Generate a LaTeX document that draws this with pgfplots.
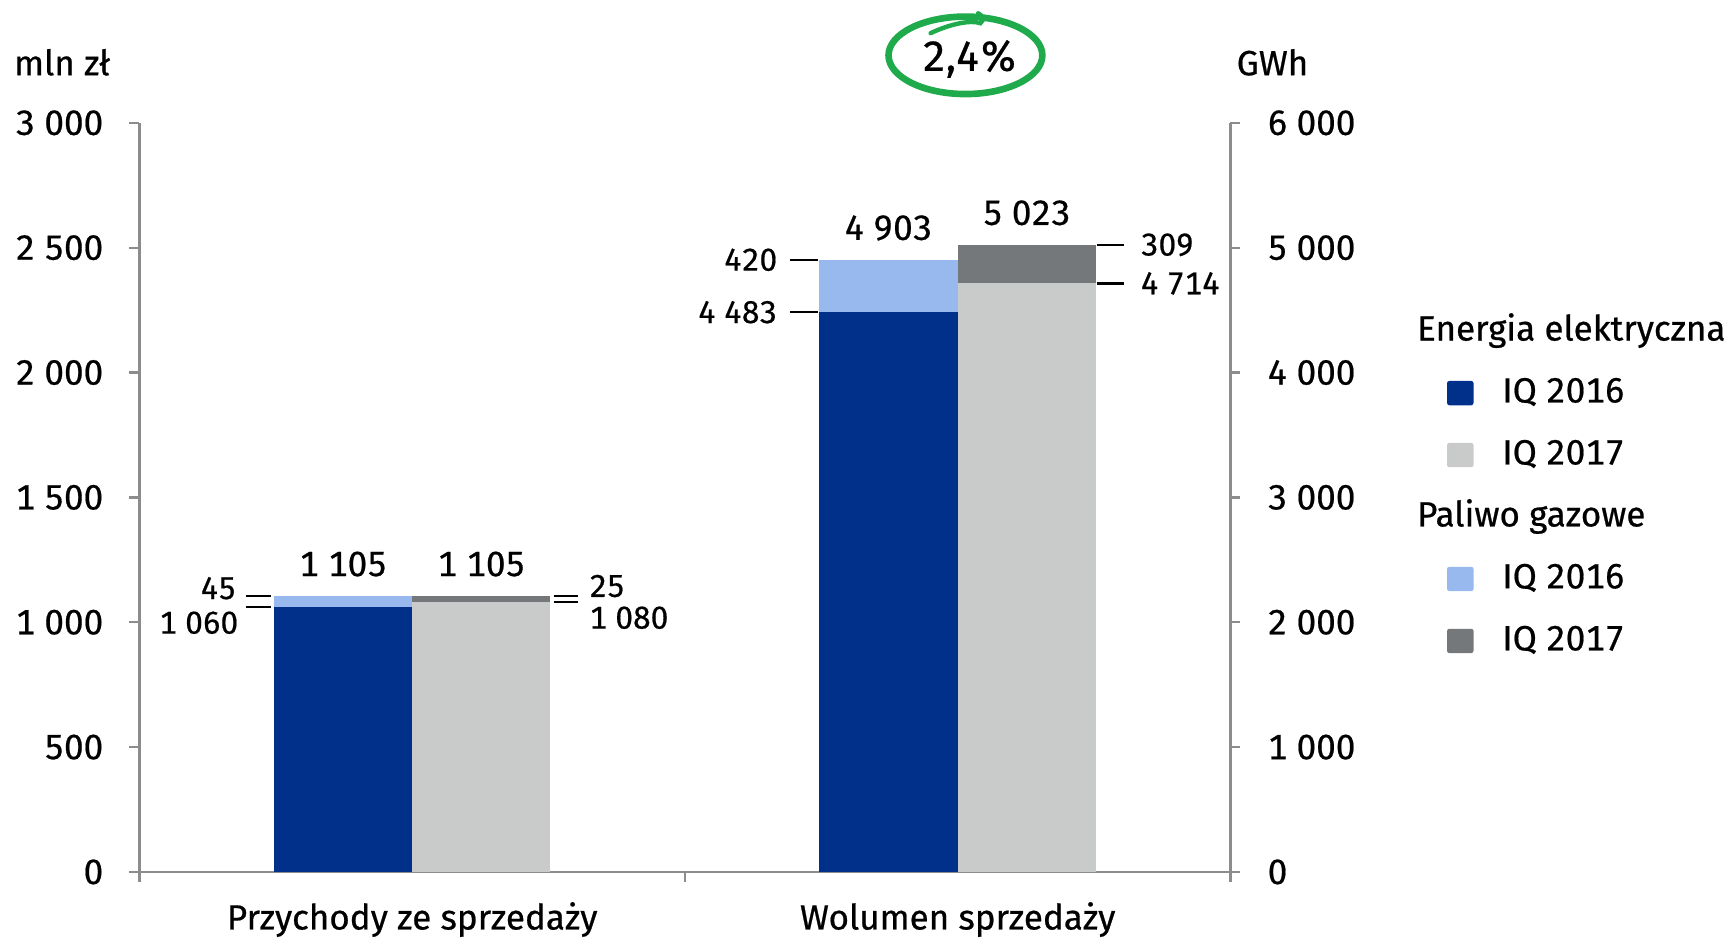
\documentclass[border=0pt]{standalone}
\usepackage{fontspec}
\setmainfont{Fira Sans}[FakeBold=0.6, Numbers=Monospaced]
\usepackage{pgfplots}
\pgfplotsset{compat=1.18}

\definecolor{navy}{HTML}{00308A}
\definecolor{lgray}{HTML}{C9CBCA}
\definecolor{lblue}{HTML}{97B9EE}
\definecolor{dgray}{HTML}{75787B}
\definecolor{axgray}{HTML}{8C8C8C}
\definecolor{ring}{HTML}{1FAA4C}

\newcommand\fs{\fontsize{9pt}{10pt}\selectfont}
\newcommand\fss{\fontsize{8.1pt}{9pt}\selectfont}

\tikzset{lead/.style={black, line width=0.02cm}}

\pgfplotsset{
  base/.style={
    at={(1.26cm,0.60cm)}, anchor=south west, scale only axis,
    width=9.86cm, height=6.77cm,
    xmin=-0.5, xmax=1.5, ymin=0,
    ybar stacked, bar width=0.2535,
    axis line style={axgray, line width=0.6pt},
    tick style={axgray, line width=0.6pt},
    tick align=outside, major tick length=0.09cm,
    clip=false,
    /pgf/number format/assume math mode=true,
    tick label style={font=\fs, inner sep=0pt, text=black},
  },
  sq/.style={legend image code/.code={\fill[##1, rounded corners=0.6pt] (0cm,-0.11cm) rectangle (0.24cm,0.11cm);}},
}

\begin{document}
\begin{tikzpicture}
% left axis: revenue, mln zl
\begin{axis}[base, ymax=3000,
  axis y line*=left, axis x line*=bottom,
  ytick={0,500,...,3000},
  yticklabels={0,500,1 000,1 500,2 000,2 500,3 000},
  yticklabel style={anchor=east, xshift=-0.23cm},
  xtick={-0.5,0.5,1.5}, xticklabels={},
  extra x ticks={0,1},
  extra x tick labels={Przychody ze sprzedaży, Wolumen sprzedaży},
  extra x tick style={major tick length=0pt, tick label style={anchor=base, yshift=-0.52cm}},
  legend style={at={(1.1978,0.7459)}, anchor=north west, draw=none, fill=none,
    inner sep=0pt, row sep=0.25cm, column sep=0.26cm, font=\fs,
    nodes={inner sep=0pt, text height=0.24cm, text depth=0.07cm}},
  legend cell align=left,
]
\addlegendimage{empty legend}
\addplot[fill=navy, draw=none, sq] coordinates {(-0.12675,1060) (0.12675,0)};
\addplot[fill=lgray, draw=none, sq] coordinates {(-0.12675,0) (0.12675,1080)};
\addlegendimage{empty legend}
\addplot[fill=lblue, draw=none, sq] coordinates {(-0.12675,45) (0.12675,0)};
\addplot[fill=dgray, draw=none, sq] coordinates {(-0.12675,0) (0.12675,25)};
\legend{\hspace*{-0.77cm}Energia elektryczna, IQ 2016, IQ 2017,
        \hspace*{-0.77cm}Paliwo gazowe, IQ 2016, IQ 2017}

\node[font=\fs, anchor=base, yshift=0.18cm] at (axis cs:-0.12675,1105) {1 105};
\node[font=\fs, anchor=base, yshift=0.18cm] at (axis cs:0.12675,1105) {1 105};
\draw[lead] (axis cs:-0.3055,1105) -- (axis cs:-0.2585,1105);
\draw[lead] (axis cs:-0.3055,1060) -- (axis cs:-0.2585,1060);
\draw[lead] (axis cs:0.2595,1105) -- (axis cs:0.3032,1105);
\draw[lead] (axis cs:0.2595,1080) -- (axis cs:0.3032,1080);
\node[font=\fss, anchor=east, inner sep=0pt, yshift=0.07cm] at (axis cs:-0.3215,1105) {45};
\node[font=\fss, anchor=east, inner sep=0pt, yshift=-0.14cm] at (axis cs:-0.3175,1060) {1 060};
\node[font=\fss, anchor=west, inner sep=0pt, yshift=0.09cm] at (axis cs:0.3235,1105) {25};
\node[font=\fss, anchor=west, inner sep=0pt, yshift=-0.14cm] at (axis cs:0.3235,1080) {1 080};
\end{axis}

% right axis: volume, GWh
\begin{axis}[base, ymax=6000,
  axis y line*=right, axis x line=none,
  ytick={0,1000,...,6000},
  yticklabels={0,1 000,2 000,3 000,4 000,5 000,6 000},
  yticklabel style={anchor=west, xshift=0.24cm},
]
\addplot[fill=navy, draw=none] coordinates {(0.87325,4483) (1.12675,0)};
\addplot[fill=lgray, draw=none] coordinates {(0.87325,0) (1.12675,4714)};
\addplot[fill=lblue, draw=none] coordinates {(0.87325,420) (1.12675,0)};
\addplot[fill=dgray, draw=none] coordinates {(0.87325,0) (1.12675,309)};

\node[font=\fs, anchor=base, yshift=0.18cm] at (axis cs:0.87325,4903) {4 903};
\node[font=\fs, anchor=base, yshift=0.18cm] at (axis cs:1.12675,5023) {5 023};
\draw[lead] (axis cs:0.6925,4903) -- (axis cs:0.7435,4903);
\draw[lead] (axis cs:0.6925,4483) -- (axis cs:0.7435,4483);
\draw[lead] (axis cs:1.2555,5023) -- (axis cs:1.3045,5023);
\draw[lead] (axis cs:1.2555,4714) -- (axis cs:1.3045,4714);
\node[font=\fss, anchor=east, inner sep=0pt] at (axis cs:0.6705,4903) {420};
\node[font=\fss, anchor=east, inner sep=0pt] at (axis cs:0.6705,4483) {4 483};
\node[font=\fss, anchor=west, inner sep=0pt] at (axis cs:1.3345,5023) {309};
\node[font=\fss, anchor=west, inner sep=0pt] at (axis cs:1.3345,4714) {4 714};
\end{axis}

\node[font=\fs, anchor=base west, inner sep=0pt] at (0.12,7.80) {mln zł};
\node[font=\fs, anchor=base west, inner sep=0pt] at (11.17,7.80) {GWh};

% hand-drawn ring around the growth figure
\draw[ring, line width=0.06cm] (8.725,7.98) ellipse [x radius=0.695, y radius=0.35];
\draw[ring, line width=0.04cm, line cap=round]
  (8.41,8.18) .. controls (8.60,8.27) and (8.78,8.30) .. (8.86,8.27)
  .. controls (8.90,8.30) and (8.88,8.34) .. (8.84,8.36);
\node[font=\fontsize{10.8pt}{12pt}\selectfont, anchor=base, inner sep=0pt] at (8.765,7.84) {2,4\%};

\pgfresetboundingbox
\path[use as bounding box] (0,0) rectangle (15.68,8.48);
\end{tikzpicture}
\end{document}
